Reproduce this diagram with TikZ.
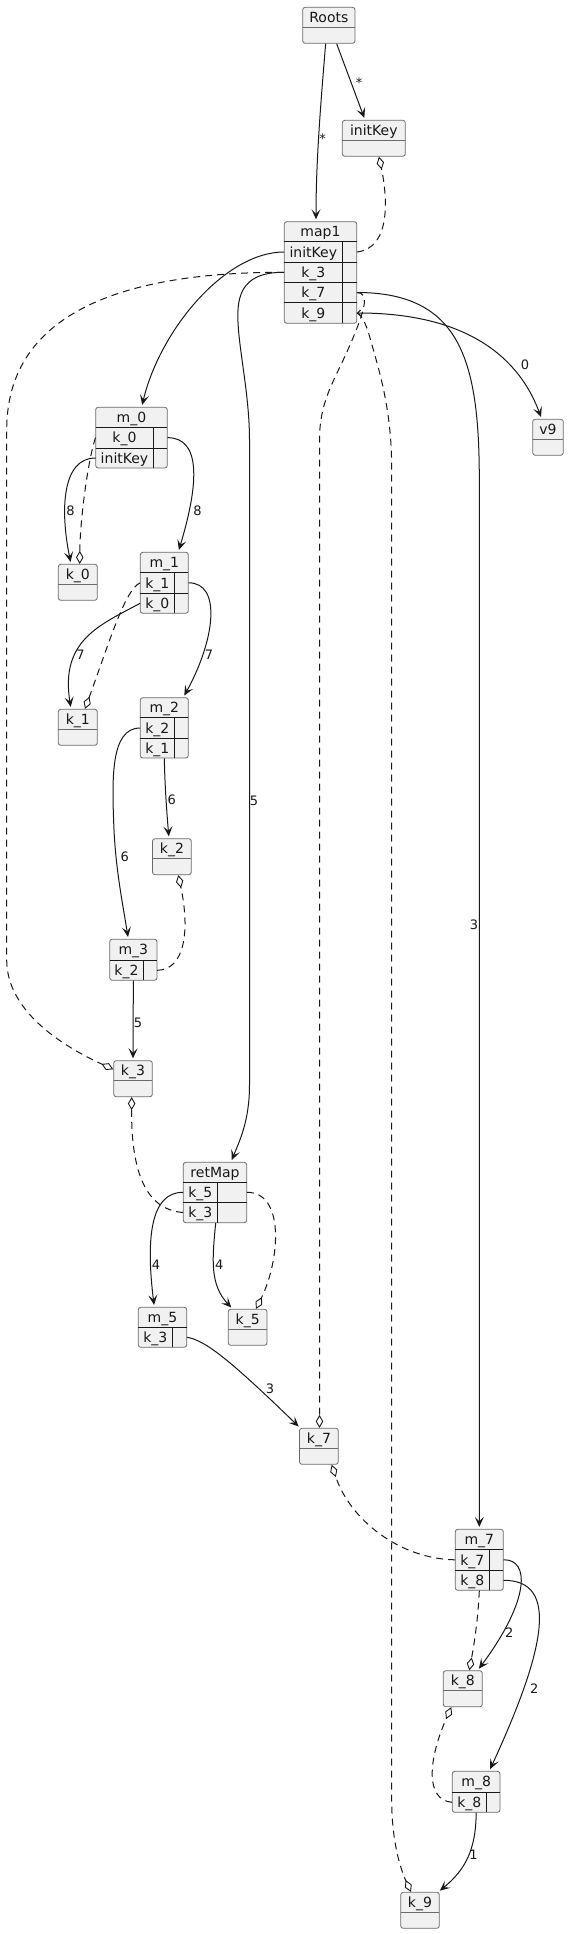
\documentclass[tikz,border=0pt]{standalone}
\usepackage{fontspec}
\setmainfont{DejaVu Sans}
\usetikzlibrary{arrows.meta,fit,calc}
\definecolor{boxfill}{HTML}{F1F1F1}
\definecolor{boxborder}{HTML}{6A6A6A}
\definecolor{ink}{HTML}{181818}
\tikzset{
 objbox/.style={draw=boxborder, fill=boxfill, rounded corners=2.5pt, line width=0.8pt, inner sep=0pt},
 rowbox/.style={inner sep=0pt},
 hdrline/.style={draw=boxborder, line width=0.8pt},
 mapline/.style={draw=ink, line width=1pt},
 lbl/.style={font=\fontsize{14}{16}\selectfont, inner sep=0pt, anchor=base, text=ink},
 elbl/.style={font=\fontsize{13}{15}\selectfont, inner sep=0pt, text=ink},
 link/.style={draw=ink, line width=1pt, shorten >=2pt, -{Stealth[length=10pt,width=9pt,inset=4.5pt]}},
 keyref/.style={draw=ink, line width=1pt, dash pattern=on 7pt off 5pt, -{Diamond[open,length=13pt,width=7.5pt,line width=0.9pt]}},
}
\newcommand{\sobj}[5]{%
 \node[objbox, fit={({#3},{#4}) ({#5},{#4+36})}] (#1) {};
 \draw[hdrline] ({#3},{#4+20}) -- ({#5},{#4+20});
 \node[lbl] (#1-t) at ({(#3+#5)/2},{#4+15.2}) {#2};
}
\newcommand{\mapobj}[6]{%
 \node[objbox, fit={({#3},{#4}) ({#5},{#6})}] (#1) {};
 \node[lbl] (#1-t) at ({(#3+#5)/2},{#4+15.2}) {#2};
}
\newcommand{\mrow}[7]{%
 \node[rowbox, fit={({#3},{#6}) ({#5},{#7})}] (#1) {};
 \draw[mapline] ({#3},{#6}) -- ({#5},{#6});
 \draw[mapline] ({#4},{#6}) -- ({#4},{#7});
 \node[lbl] (#1-t) at ({(#3+#4)/2},{(#6+#7)/2+5.2}) {#2};
}
\begin{document}
\begin{tikzpicture}[x=1pt,y=-1pt]
\useasboundingbox (0,0) rectangle (585,1934);

% simple objects
\sobj{Roots}{Roots}{302.7}{7.3}{355}
\sobj{ik}{initKey}{342.3}{120.3}{405.3}
\sobj{v9}{v9}{532.7}{419.3}{563.3}
\sobj{k0}{k\_0}{58.3}{564.3}{97.3}
\sobj{k1}{k\_1}{58.3}{709.3}{97.3}
\sobj{k2}{k\_2}{152.5}{838.7}{191.3}
\sobj{k3}{k\_3}{113.7}{1060.7}{152.3}
\sobj{k5}{k\_5}{228.3}{1309.3}{267}
\sobj{k7}{k\_7}{299.5}{1428.3}{338.3}
\sobj{k8}{k\_8}{443.3}{1670.7}{482.3}
\sobj{k9}{k\_9}{400.7}{1892.3}{439.3}

% maps
\mapobj{map1}{map1}{284.3}{221.7}{356.7}{323.3}
\mrow{map1-ik}{initKey}{284.3}{342.3}{356.7}{241.7}{262.3}
\mrow{map1-k3}{k\_3}{284.3}{342.3}{356.7}{262.3}{282.3}
\mrow{map1-k7}{k\_7}{284.3}{342.3}{356.7}{282.3}{302.7}
\mrow{map1-k9}{k\_9}{284.3}{342.3}{356.7}{302.7}{323.3}

\mapobj{m0}{m\_0}{95.7}{407.3}{167.3}{468}
\mrow{m0-k0}{k\_0}{95.7}{153.3}{167.3}{427.3}{448}
\mrow{m0-ik}{initKey}{95.7}{153.3}{167.3}{448}{468}

\mapobj{m1}{m\_1}{140.3}{552.3}{188.3}{613.3}
\mrow{m1-k1}{k\_1}{140.3}{174.3}{188.3}{572.3}{593.3}
\mrow{m1-k0}{k\_0}{140.3}{174.3}{188.3}{593.3}{613.3}

\mapobj{m2}{m\_2}{140.3}{697.7}{188.3}{758}
\mrow{m2-k2}{k\_2}{140.3}{174.3}{188.3}{717.7}{738.3}
\mrow{m2-k1}{k\_1}{140.3}{174.3}{188.3}{738.3}{758}

\mapobj{m3}{m\_3}{109.7}{939.3}{157}{980.3}
\mrow{m3-k2}{k\_2}{109.7}{143.3}{157}{960.3}{980.3}

\mapobj{rm}{retMap}{183.3}{1162.3}{246.7}{1222.7}
\mrow{rm-k5}{k\_5}{183.3}{217.3}{246.7}{1182.3}{1202.3}
\mrow{rm-k3}{k\_3}{183.3}{217.3}{246.7}{1202.3}{1222.7}

\mapobj{m5}{m\_5}{138.3}{1307.3}{186.7}{1347.3}
\mrow{m5-k3}{k\_3}{138.3}{172.3}{186.7}{1327.3}{1347.3}

\mapobj{m7}{m\_7}{455.3}{1529.3}{503.3}{1590.3}
\mrow{m7-k7}{k\_7}{455.3}{489.3}{503.3}{1549.3}{1570.3}
\mrow{m7-k8}{k\_8}{455.3}{489.3}{503.3}{1570.3}{1590.3}

\mapobj{m8}{m\_8}{452.3}{1771.3}{500}{1812.3}
\mrow{m8-k8}{k\_8}{452.3}{486.3}{500}{1792.3}{1812.3}

% connectors
\draw[link] ($(Roots.south)+(-3.2,0)$) .. controls (321,100) and (316,160) .. ($(map1.north)+(-4.5,0)$);
\draw[link] ($(Roots.south)+(7.8,0)$) -- ($(ik.north)+(-8.8,0)$);
\draw[keyref] (map1-ik.east) .. controls (392,248) and (387,195) .. ($(ik.south)+(5.2,0)$);
\draw[link] (map1-ik.west) .. controls (225,252) and (160,330) .. ($(m0.north)+(10.2,0)$);
\draw[keyref] (map1-k3.west) .. controls (150,272) and (6.7,300) .. (6.7,430) -- (6.7,960) .. controls (6.7,1010) and (60,1045) .. ($(k3.west)+(0,-9.4)$);
\draw[link] (map1-k3.west) .. controls (238,272) and (236,300) .. (238.5,330) .. controls (241,360) and (249.5,400) .. (249.5,440) -- (249.5,1085) .. controls (249.5,1120) and (240,1140) .. ($(rm.north)+(16,0)$);
\draw[link] (map1-k7.east) .. controls (460,292.5) and (479.3,360) .. (479.3,480) -- (m7.north);
\draw[link, {Straight Barb[length=3pt,width=6pt]}-{Stealth[length=10pt,width=9pt,inset=4.5pt]}] (map1-k9.east) .. controls (470,313) and (520,360) .. ($(v9.north)+(-6.3,0)$);
\draw[keyref] (map1-k7.east) .. controls (370,292.5) and (365,310) .. (350,345) .. controls (335,380) and (319.5,400) .. (319.5,440) -- ($(k7.north)+(0.6,0)$);
\draw[keyref] (map1-k9.east) .. controls (363,315) and (367,327) .. (372,345) .. controls (382,380) and (391.7,415) .. (391.7,470) -- (391.7,1800) .. controls (391.7,1840) and (400,1868) .. ($(k9.north)+(-9,0)$);

\draw[link] (m0-k0.east) .. controls (200,437.7) and (200,480) .. ($(m1.north)+(14,0)$);
\draw[link] (m0-ik.west) .. controls (62,458) and (60,510) .. ($(k0.north)+(-6.8,0)$);
\draw[keyref] (m0-k0.west) .. controls (88,460) and (80,520) .. ($(k0.north)+(1.9,0)$);

\draw[link] (m1-k1.east) .. controls (222,582.7) and (215,640) .. ($(m2.north)+(19,0)$);
\draw[link] (m1-k0.west) .. controls (100,625) and (60,640) .. ($(k1.north)+(-6.8,0)$);
\draw[keyref] (m1-k1.west) .. controls (125,590) and (110,640) .. ($(k1.north)+(7.2,0)$);

\draw[link] (m2.south) .. controls (165,790) and (167,815) .. ($(k2.north)+(-2.9,0)$);
\draw[link] (m2-k2.west) .. controls (110,728) and (112,780) .. (114,830) .. controls (116,870) and (122,900) .. ($(m3.north)+(-5,0)$);
\draw[keyref] (m3-k2.east) .. controls (185,970) and (190,930) .. ($(k2.south)+(6.4,0)$);
\draw[link] (m3.south) -- (k3.north);

\draw[keyref] (rm-k3.west) .. controls (150,1210) and (131,1180) .. ($(k3.south)+(-1.3,0)$);
\draw[link] (rm-k5.west) .. controls (150,1192) and (146,1240) .. ($(m5.north)+(-8.2,0)$);
\draw[link] ($(rm.south)+(0.7,0)$) .. controls (212,1260) and (210,1285) .. ($(k5.north)+(-15,0)$);
\draw[keyref] (rm-k5.east) .. controls (285,1192) and (280,1260) .. ($(k5.north)+(8.35,0)$);
\draw[link] (m5-k3.east) .. controls (205,1340) and (230,1360) .. ($(k7.north west)+(1,0)$);

\draw[keyref] (m7-k7.west) .. controls (400,1559) and (350,1520) .. ($(k7.south)+(12.8,0)$);
\draw[link] (m7-k7.east) .. controls (530,1559) and (530,1600) .. ($(k8.north)+(14.9,0)$);
\draw[link] (m7-k8.east) .. controls (560,1580) and (545,1650) .. ($(m8.north)+(13.2,0)$);
\draw[keyref] (m7.south) .. controls (478,1620) and (474,1645) .. ($(k8.north)+(6.5,0)$);
\draw[keyref] (m8-k8.west) .. controls (425,1800) and (428,1760) .. ($(k8.south)+(-11.5,0)$);
\draw[link] (m8.south) .. controls (476,1850) and (465,1870) .. ($(k9.north)+(18.3,0)$);

% edge labels
\node[elbl] (e1) at (322.5,139) {*};
\node[elbl] (e2) at (359,82.3) {*};
\node[elbl] (e3) at (525,365) {0};
\node[elbl] (e4) at (474,925) {3};
\node[elbl] (e5) at (254,800.7) {5};
\node[elbl] (e6) at (70.5,510.3) {8};
\node[elbl] (e7) at (197.5,510.3) {8};
\node[elbl] (e8) at (80.5,655) {7};
\node[elbl] (e9) at (209,655) {7};
\node[elbl] (e10) at (171.7,800) {6};
\node[elbl] (e11) at (124.7,856.7) {6};
\node[elbl] (e12) at (138,1022.7) {5};
\node[elbl] (e13) at (156,1265) {4};
\node[elbl] (e14) at (219.3,1265) {4};
\node[elbl] (e15) at (270,1389) {3};
\node[elbl] (e16) at (509.3,1632.3) {2};
\node[elbl] (e17) at (534.3,1688.3) {2};
\node[elbl] (e18) at (473.5,1854.7) {1};
\end{tikzpicture}
\end{document}
